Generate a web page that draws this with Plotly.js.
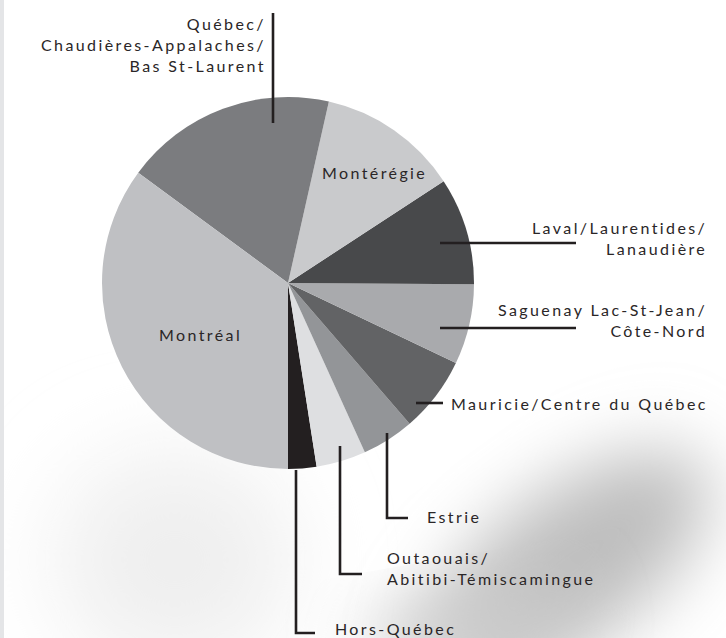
<!DOCTYPE html>
<html>
<head>
<meta charset="utf-8">
<script src="https://cdn.plot.ly/plotly-3.0.1.min.js"></script>
<style>
  html, body { margin: 0; padding: 0; background: #ffffff; }
  #chart { width: 726px; height: 638px; }
  svg text { letter-spacing: 2.4px; }
</style>
</head>
<body>
<div id="chart"></div>
<script>
// Regions, in drawing order (counter-clockwise on screen from 6 o'clock)
const regions = [
  "Hors-Québec",
  "Outaouais/Abitibi-Témiscamingue",
  "Estrie",
  "Mauricie/Centre du Québec",
  "Saguenay Lac-St-Jean/Côte-Nord",
  "Laval/Laurentides/Lanaudière",
  "Montérégie",
  "Québec/Chaudières-Appalaches/Bas St-Laurent",
  "Montréal"
];
// Share of total (%)
const shares = [2.46, 4.32, 4.56, 6.58, 6.97, 9.33, 12.25, 18.42, 35.10];
// Label texts as printed
const labelTexts = [
  "Hors-Québec",
  "Outaouais/<br>Abitibi-Témiscamingue",
  "Estrie",
  "Mauricie/Centre du Québec",
  "Saguenay Lac-St-Jean/<br>Côte-Nord",
  "Laval/Laurentides/<br>Lanaudière",
  "Montérégie",
  "Québec/<br>Chaudières-Appalaches/<br>Bas St-Laurent",
  "Montréal"
];
const sliceColors = ["#231f20", "#dedfe1", "#939598", "#626365", "#a9aaad",
                     "#48494b", "#c9cacc", "#7b7c7f", "#bfc0c3"];

const W = 726, H = 638;
const px = x => x / W;
const py = y => 1 - y / H;

// label placement (pixels) : [x, y, xanchor, align]
const labelPos = [
  [333, 628, "left", "left"],
  [385, 568, "left", "left"],
  [425, 516, "left", "left"],
  [449, 403, "left", "left"],
  [709, 320, "right", "right"],
  [709, 238, "right", "right"],
  [375, 172, "center", "center"],
  [268, 44, "right", "right"],
  [200, 334, "center", "center"]
];
// leader lines (pixel polylines)
const leaders = [
  [[296, 470], [296, 633], [315, 633]],
  [[340, 446], [340, 574], [362, 574]],
  [[387, 433], [387, 518], [408, 518]],
  [[416, 403], [443, 403]],
  [[440, 328], [576, 328]],
  [[440, 243], [576, 243]],
  null,
  [[273, 13], [273, 123]],
  null
];

const shapes = [];
// left grey strip
shapes.push({type: "rect", xref: "paper", yref: "paper", x0: 0, x1: px(4), y0: 0, y1: 1,
             fillcolor: "#e4e5e7", line: {width: 0}, layer: "below"});
leaders.forEach(pts => {
  if (!pts) return;
  let path = "M" + pts.map(p => px(p[0]) + "," + py(p[1])).join(" L");
  shapes.push({type: "path", xref: "paper", yref: "paper", path: path,
               line: {color: "#231f20", width: 2.6}, layer: "above"});
});

const annotations = labelTexts.map((t, i) => ({
  text: t, xref: "paper", yref: "paper",
  x: px(labelPos[i][0]), y: py(labelPos[i][1]),
  xanchor: labelPos[i][2], yanchor: "middle", align: labelPos[i][3],
  showarrow: false,
  font: {family: "Lato, 'Open Sans', sans-serif", size: 16, weight: 400, color: "#2a2627"}
}));

// soft background texture (bottom right)
const bgSvg = '<svg xmlns="http://www.w3.org/2000/svg" width="726" height="638">' +
  '<defs><filter id="b" x="-50%" y="-50%" width="200%" height="200%"><feGaussianBlur stdDeviation="35"/></filter>' +
  '<filter id="c" x="-50%" y="-50%" width="200%" height="200%"><feGaussianBlur stdDeviation="45"/></filter></defs>' +
  '<ellipse cx="175" cy="560" rx="120" ry="110" fill="#efefef" filter="url(#c)"/>' +
  '<ellipse cx="570" cy="565" rx="165" ry="75" transform="rotate(-36 570 565)" fill="#bebebe" filter="url(#b)"/>' +
  '<ellipse cx="470" cy="625" rx="110" ry="35" transform="rotate(-10 470 625)" fill="#cdcdcd" filter="url(#b)"/>' +
  '</svg>';
const images = [{
  source: "data:image/svg+xml;charset=utf-8," + encodeURIComponent(bgSvg),
  xref: "paper", yref: "paper", x: 0, y: 1, sizex: 1, sizey: 1,
  xanchor: "left", yanchor: "top", sizing: "stretch", layer: "below"
}];

const total = shares.reduce((a, b) => a + b, 0);
const data = [{
  type: "pie",
  labels: regions,
  values: shares,
  sort: false,
  direction: "counterclockwise",
  rotation: 180 - shares[0] / total * 360,
  marker: {colors: sliceColors, line: {width: 0}},
  textinfo: "none",
  hoverinfo: "skip",
  showlegend: false,
  domain: {x: [px(288 - 186), px(288 + 186)], y: [py(283 + 186), py(283 - 186)]}
}];

const layout = {
  width: W, height: H,
  margin: {l: 0, r: 0, t: 0, b: 0},
  paper_bgcolor: "rgba(0,0,0,0)",
  plot_bgcolor: "rgba(0,0,0,0)",
  showlegend: false,
  shapes: shapes,
  annotations: annotations,
  images: images
};

Plotly.newPlot("chart", data, layout, {staticPlot: true, displayModeBar: false});
</script>
</body>
</html>
